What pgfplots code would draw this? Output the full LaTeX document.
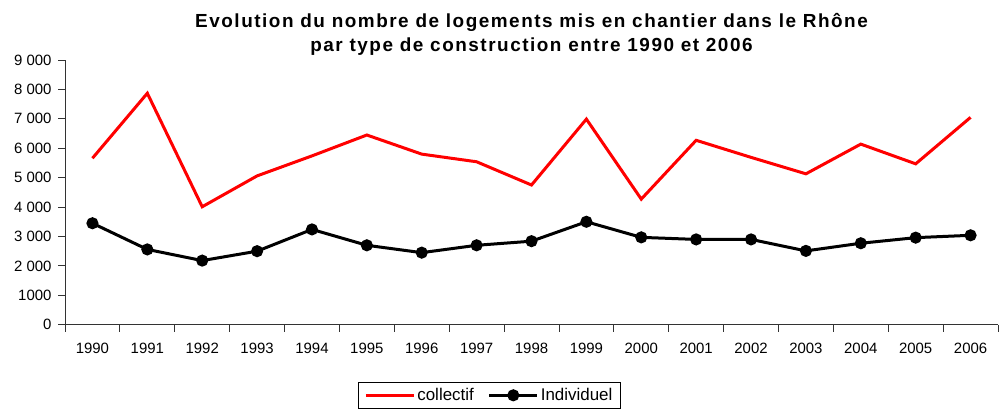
\documentclass[border=0pt]{standalone}
\usepackage{fontspec}
\setmainfont{Liberation Sans}
\newfontfamily\titlefont[LetterSpace=8]{Liberation Sans}
\usepackage{pgfplots}
\pgfplotsset{compat=1.18}

\begin{document}
\begin{tikzpicture}
\begin{axis}[
    name=ax,
    scale only axis,
    width=933bp,
    height=264.7bp,
    xmin=-0.5, xmax=16.5,
    ymin=0, ymax=9000,
    axis x line=bottom,
    axis y line=left,
    axis line style={-, line width=0.8bp, black!80},
    tick align=outside,
    xtick={0,...,16},
    xticklabels={1990,1991,1992,1993,1994,1995,1996,1997,1998,1999,2000,2001,2002,2003,2004,2005,2006},
    minor xtick={-0.5,0.5,...,16.5},
    major x tick style={draw=none},
    minor tick length=7bp,
    major tick length=7bp,
    tick style={line width=0.8bp, black!80},
    ytick={0,1000,...,9000},
    yticklabels={0,1000,2 000,3 000,4 000,5 000,6 000,7 000,8 000,9 000},
    tick label style={font=\fontsize{15}{18}\selectfont},
    xticklabel style={yshift=-8bp},
    yticklabel style={xshift=-3bp},
    clip=false,
    legend columns=2,
    legend style={at={(rel axis cs:0.314,-0.2165)}, anchor=north west,
        draw=black, line width=0.8bp, font=\fontsize{17}{20}\selectfont,
        inner xsep=6bp, inner ysep=4bp,
        /tikz/every even column/.append style={column sep=12bp}},
    legend image code/.code={\draw[mark repeat=2,mark phase=2,#1] plot coordinates {(0bp,0bp) (24bp,0bp) (48bp,0bp)};},
]

% collectif
\addplot[red, line width=3bp, no markers] coordinates {
    (0,5660) (1,7870) (2,4010) (3,5060) (4,5740) (5,6450) (6,5800) (7,5540) (8,4750)
    (9,6990) (10,4270) (11,6270) (12,5690) (13,5130) (14,6140) (15,5470) (16,7050)
};

% individuel
\addplot[black, line width=3bp, mark=*, mark size=4.5bp] coordinates {
    (0,3450) (1,2560) (2,2180) (3,2500) (4,3240) (5,2700) (6,2450) (7,2700) (8,2840)
    (9,3500) (10,2970) (11,2900) (12,2900) (13,2510) (14,2770) (15,2960) (16,3040)
};

\legend{collectif, Individuel}

\node[anchor=base, font=\titlefont\bfseries\fontsize{19}{22}\selectfont] at (rel axis cs:0.5,1.1247)
    {Evolution du nombre de logements mis en chantier dans le Rhône};
\node[anchor=base, font=\titlefont\bfseries\fontsize{19}{22}\selectfont] at (rel axis cs:0.5,1.0303)
    {par type de construction entre 1990 et 2006};

\coordinate (bl) at (rel axis cs:-0.06967,-0.3223);
\coordinate (tr) at (rel axis cs:1.00107,1.2267);
\end{axis}
\pgfresetboundingbox
\path[use as bounding box] (bl) rectangle (tr);
\end{tikzpicture}
\end{document}
